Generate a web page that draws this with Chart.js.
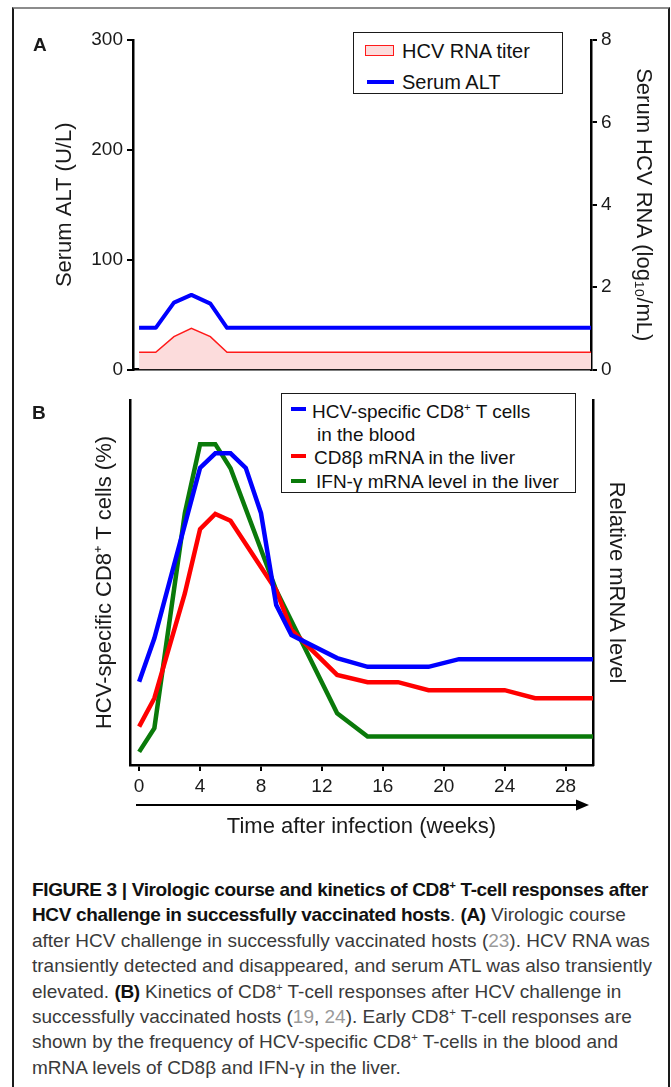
<!DOCTYPE html>
<html>
<head>
<meta charset="utf-8">
<title>Figure 3</title>
<script src="https://cdn.jsdelivr.net/npm/chart.js@4.4.1/dist/chart.umd.min.js"></script>
<style>
  html, body { margin: 0; padding: 0; background: #fff; }
  body { width: 671px; height: 1087px; position: relative; overflow: hidden; font-family: 'Liberation Sans', Arial, sans-serif; color: #1a1a1a; }
  #frame { position: absolute; left: 12px; top: 7px; width: 658px; height: 1120px; box-sizing: border-box; border-left: 2px solid #1a1a1a; border-right: 2px solid #1a1a1a; border-top: 2px solid #8c8c8c; pointer-events: none; z-index: 5; }
  canvas { position: absolute; left: 0; }
  #chartA { top: 0; }
  #chartB { top: 385px; }
  .panel-tag { position: absolute; font-weight: bold; font-size: 19px; line-height: 22px; z-index: 4; }
  .legend { position: absolute; background: #fff; border: 1.5px solid #1a1a1a; box-sizing: border-box; z-index: 3; color: #111; }
  .legend span, .legend i { position: absolute; white-space: nowrap; }
  .legend span { line-height: 24px; }
  .legend i { display: block; }
  sup { font-size: 0.6em; line-height: 0; vertical-align: 0.6em; }
  #caption { position: absolute; left: 32px; top: 877px; font-size: 19px; line-height: 25.4px; color: #3a3a3a; white-space: nowrap; }
  #caption b { color: #111; letter-spacing: -0.35px; }
  #caption .ref { color: #9a9a9a; }
</style>
</head>
<body>
<div id="frame"></div>

<div class="panel-tag" style="left:33px; top:34px;">A</div>
<canvas id="chartA" width="671" height="385"></canvas>
<div class="legend" style="left:353px; top:32px; width:210px; height:62px; font-size:20px;">
  <i style="left:11px; top:12px; width:29px; height:11px; box-sizing:border-box; border:1.5px solid #ff1a1a; background:#fcdcdc;"></i>
  <span style="left:48px; top:6px;">HCV RNA titer</span>
  <i style="left:13px; top:47px; width:27px; height:4px; background:#0000ff;"></i>
  <span style="left:48px; top:37px;">Serum ALT</span>
</div>

<div class="panel-tag" style="left:32px; top:402px;">B</div>
<canvas id="chartB" width="671" height="465"></canvas>
<div class="legend" style="left:281px; top:393px; width:295px; height:100px; font-size:19px;">
  <i style="left:9px; top:13px; width:15px; height:4px; background:#0000ff;"></i>
  <span style="left:30px; top:6px;">HCV-specific CD8<sup>+</sup> T cells</span>
  <span style="left:35px; top:29px;">in the blood</span>
  <i style="left:9px; top:60px; width:15px; height:4px; background:#ff0000;"></i>
  <span style="left:32px; top:52px;">CD8β mRNA in the liver</span>
  <i style="left:9px; top:85px; width:15px; height:4px; background:#0a7a0a;"></i>
  <span style="left:34px; top:76px;">IFN-γ mRNA level in the liver</span>
</div>

<div id="caption">
  <b>FIGURE 3 | Virologic course and kinetics of CD8<sup>+</sup> T-cell responses after</b><br>
  <b>HCV challenge in successfully vaccinated hosts</b>. <b>(A)</b> Virologic course<br>
  after HCV challenge in successfully vaccinated hosts (<span class="ref">23</span>). HCV RNA was<br>
  transiently detected and disappeared, and serum ATL was also transiently<br>
  elevated. <b>(B)</b> Kinetics of CD8<sup>+</sup> T-cell responses after HCV challenge in<br>
  successfully vaccinated hosts (<span class="ref">19</span>, <span class="ref">24</span>). Early CD8<sup>+</sup> T-cell responses are<br>
  shown by the frequency of HCV-specific CD8<sup>+</sup> T-cells in the blood and<br>
  mRNA levels of CD8β and IFN-γ in the liver.
</div>

<script>
// Panel A - virologic course (weeks after challenge)
const weeksA = [0, 1.1, 2.3, 3.45, 4.7, 5.8, 29.8];
const serumAlt = [38, 38, 61, 68, 60, 38, 38];              // U/L
const hcvRnaTiter = [0.42, 0.42, 0.8, 1.0, 0.8, 0.42, 0.42]; // log10/mL
const altTicks = [0, 100, 200, 300];
const rnaTicks = [0, 2, 4, 6, 8];

// Panel B - CD8 responses (relative units)
const weeksBlood = [0, 1, 4, 5, 6, 7, 8, 9, 10, 13, 15, 19, 21, 29.8];
const cd8Blood = [22.8, 34.7, 81.4, 85.4, 85.4, 81.4, 69.0, 43.8, 35.6, 29.3, 26.9, 26.9, 29.0, 29.0];
const weeksCd8b = [0, 1, 3, 4, 5, 6, 9, 10, 13, 15, 17, 19, 24, 26, 29.8];
const cd8bLiver = [10.5, 18.3, 47.0, 64.6, 68.8, 66.9, 47.9, 37.0, 24.7, 22.7, 22.7, 20.5, 20.5, 18.3, 18.3];
const weeksIfn = [0, 1, 3, 4, 5, 6, 9, 13, 15, 29.8];
const ifnLiver = [3.6, 10.1, 69.0, 87.9, 87.9, 81.3, 47.9, 14.2, 7.8, 7.8];
const weekTicks = [0, 4, 8, 12, 16, 20, 24, 28];

Chart.defaults.font.family = "'Liberation Sans', Arial, sans-serif";
Chart.defaults.color = '#1a1a1a';

const toXY = (xs, ys) => xs.map((x, i) => ({ x: x, y: ys[i] }));
const fixTicks = (vals) => (s) => { s.ticks = vals.map(v => ({ value: v })); };
const tickGrid = { drawOnChartArea: false, drawTicks: true, tickLength: 6, color: '#000', lineWidth: 2 };
const axisBorder = { display: true, color: '#000', width: 2.5 };
const tickFont = { size: 19 };
const titleFont = { size: 22 };

// arrow under the time axis
const timeArrow = {
    id: 'timeArrow',
    afterDraw(chart) {
        const { ctx, scales: { x } } = chart;
        const y = x.top + 40;
        const x0 = x.left + 6, x1 = x.right - 4;
        ctx.save();
        ctx.strokeStyle = '#000';
        ctx.fillStyle = '#000';
        ctx.lineWidth = 2;
        ctx.beginPath(); ctx.moveTo(x0, y); ctx.lineTo(x1 - 10, y); ctx.stroke();
        ctx.beginPath(); ctx.moveTo(x1, y); ctx.lineTo(x1 - 13, y - 5.5); ctx.lineTo(x1 - 13, y + 5.5); ctx.closePath(); ctx.fill();
        ctx.restore();
    }
};

new Chart(document.getElementById('chartA'), {
    type: 'line',
    data: {
        datasets: [
            { label: 'HCV RNA titer', data: toXY(weeksA, hcvRnaTiter), yAxisID: 'yRna', borderColor: '#ff1a1a', borderWidth: 1.5,
              backgroundColor: '#fcdcdc', fill: 'origin', pointRadius: 0, order: 2 },
            { label: 'Serum ALT', data: toXY(weeksA, serumAlt), yAxisID: 'yAlt', borderColor: '#0000ff', borderWidth: 4,
              pointRadius: 0, order: 1, borderJoinStyle: 'round' }
        ]
    },
    options: {
        responsive: false, animation: false,
        layout: { padding: { top: 40, left: 0, right: 0, bottom: 0 } },
        plugins: { legend: { display: false }, tooltip: { enabled: false } },
        scales: {
            x: { type: 'linear', min: -0.4, max: 29.8, ticks: { display: false }, grid: { display: false }, border: axisBorder,
                 afterFit: s => { s.height = 15; } },
            yAlt: { position: 'left', min: 0, max: 300, afterBuildTicks: fixTicks(altTicks),
                    ticks: { font: tickFont, padding: 4 }, grid: tickGrid, border: axisBorder,
                    title: { display: true, text: 'Serum ALT (U/L)', font: titleFont, padding: { top: 52 } },
                    afterFit: s => { s.width = 133; } },
            yRna: { position: 'right', min: 0, max: 8, afterBuildTicks: fixTicks(rnaTicks),
                    ticks: { font: tickFont, padding: 4 }, grid: tickGrid, border: axisBorder,
                    title: { display: true, text: 'Serum HCV RNA (log₁₀/mL)', font: titleFont, padding: { top: 15 } },
                    afterFit: s => { s.width = 80; } }
        }
    }
});

new Chart(document.getElementById('chartB'), {
    type: 'line',
    data: {
        datasets: [
            { label: 'HCV-specific CD8+ T cells in the blood', data: toXY(weeksBlood, cd8Blood), borderColor: '#0000ff', borderWidth: 4.5, pointRadius: 0 },
            { label: 'CD8β mRNA in the liver', data: toXY(weeksCd8b, cd8bLiver), yAxisID: 'y1', borderColor: '#ff0000', borderWidth: 4.5, pointRadius: 0 },
            { label: 'IFN-γ mRNA level in the liver', data: toXY(weeksIfn, ifnLiver), yAxisID: 'y1', borderColor: '#0a7a0a', borderWidth: 4.5, pointRadius: 0 }
        ]
    },
    options: {
        responsive: false, animation: false,
        layout: { padding: { top: 15, left: 0, right: 0, bottom: 0 } },
        plugins: { legend: { display: false }, tooltip: { enabled: false } },
        scales: {
            x: { type: 'linear', min: -0.6, max: 29.8, afterBuildTicks: fixTicks(weekTicks),
                 ticks: { font: tickFont, padding: 4 }, grid: tickGrid, border: axisBorder,
                 title: { display: true, text: 'Time after infection (weeks)', font: titleFont, padding: { top: 0, bottom: 10 } },
                 afterFit: s => { s.height = 85; } },
            y: { position: 'left', min: 0, max: 100, ticks: { display: false }, grid: { display: false }, border: axisBorder,
                 title: { display: true, text: 'HCV-specific CD8⁺ T cells (%)', font: titleFont, padding: { top: 92 } },
                 afterFit: s => { s.width = 130; } },
            y1: { position: 'right', min: 0, max: 100, ticks: { display: false }, grid: { display: false }, border: axisBorder,
                  title: { display: true, text: 'Relative mRNA level', font: titleFont, padding: { top: 42 } },
                  afterFit: s => { s.width = 78; } }
        }
    },
    plugins: [timeArrow]
});
</script>
</body>
</html>
